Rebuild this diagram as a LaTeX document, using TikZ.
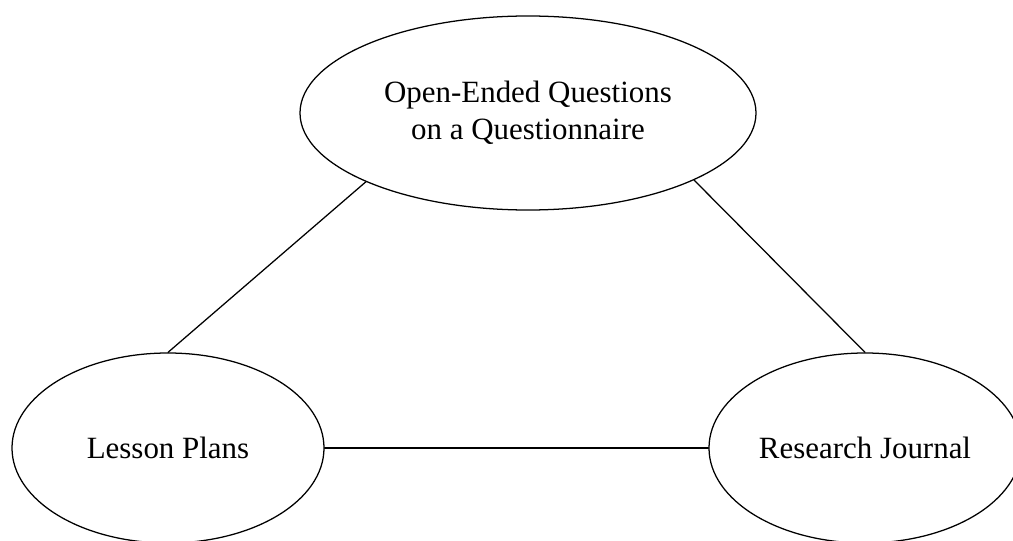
\documentclass[tikz,border=0pt]{standalone}
\usepackage{fontspec}
\setmainfont{Liberation Serif}
\usetikzlibrary{shapes.geometric}

\begin{document}
\begin{tikzpicture}[line cap=round,
		bubble/.style={ellipse,draw,line width=0.9pt,inner sep=0pt,align=center,
			font=\fontsize{22}{26}\selectfont}]
		\useasboundingbox (0,0) rectangle (25.325,13.5);
		%\draw[help lines] (0,0) grid (25,13);
		\node[bubble,minimum width=11.4cm,minimum height=4.85cm] (quest) at (13.2,10.675)
			{Open-Ended Questions\\on a Questionnaire};
		\node[bubble,minimum width=7.8cm,minimum height=4.75cm] (lesson) at (4.2,2.3) {Lesson Plans};
		\node[bubble,minimum width=7.8cm,minimum height=4.75cm] (journal) at (21.625,2.3) {Research Journal};
		
		\draw[line width=0.9pt] (quest.203) -- (lesson.north);
		\draw[line width=0.9pt] (quest.338) -- (journal.north);
		\draw[line width=0.9pt] (lesson.east) -- (journal.west);
		\end{tikzpicture}
\end{document}
